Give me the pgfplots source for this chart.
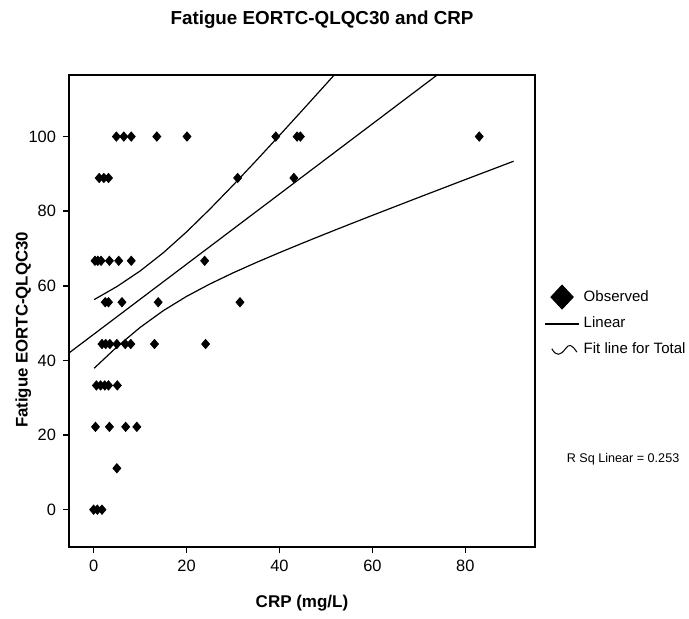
\documentclass[border=0pt]{standalone}
\usepackage{fontspec}
\setmainfont{Liberation Sans}
\usepackage{pgfplots}
\pgfplotsset{compat=1.18}
\begin{document}
\begin{tikzpicture}
\useasboundingbox (0,0) rectangle (344.5pt,309.5pt);
\begin{axis}[
  at={(34.5pt,36pt)}, anchor=south west,
  scale only axis, width=233pt, height=236pt,
  xmin=-5.3, xmax=95, ymin=-10, ymax=116.5,
  xtick={0,20,40,60,80}, ytick={0,20,40,60,80,100},
  tick align=outside, tick pos=left, major tick length=3pt,
  axis line style={line width=0.8pt},
  every tick/.style={line width=0.7pt, black},
  clip mode=individual,
  /pgf/number format/assume math mode=true,
  ticklabel style={font=\fontsize{8.2}{10}\selectfont},
  xlabel={CRP (mg/L)}, ylabel={Fatigue EORTC-QLQC30},
  xlabel style={font=\bfseries\fontsize{8.5}{10}\selectfont, at={(axis description cs:0.5,-0.119)}, anchor=center},
  ylabel style={font=\bfseries\fontsize{8.4}{10}\selectfont, at={(axis description cs:-0.098,0.46)}, anchor=center},
  legend style={draw=none, fill=none, at={(axis description cs:1.015,0.56)}, anchor=north west,
    font=\fontsize{7.5}{9}\selectfont, row sep=2pt, inner sep=1pt},
  legend cell align=left,
]
\addplot[only marks, mark=diamond*, mark size=2.3pt, mark options={xscale=1.15, fill=black, draw=black},
  legend image post style={mark size=6pt, mark options={xscale=1.25}}]
coordinates {
(4.9,100) (6.5,100) (8.1,100) (13.6,100) (20.1,100) (39.2,100) (43.8,100) (44.5,100) (83.0,100)
(1.2,88.9) (2.2,88.9) (3.2,88.9) (31.0,88.9) (43.1,88.9)
(0.3,66.7) (0.9,66.7) (1.6,66.7) (3.4,66.7) (5.4,66.7) (8.1,66.7) (23.9,66.7)
(2.5,55.6) (3.2,55.6) (6.1,55.6) (13.9,55.6) (31.5,55.6)
(1.8,44.4) (2.6,44.4) (3.5,44.4) (5.0,44.4) (6.8,44.4) (8.0,44.4) (13.1,44.4) (24.1,44.4)
(0.6,33.3) (1.5,33.3) (2.4,33.3) (3.2,33.3) (5.1,33.3)
(0.4,22.2) (3.4,22.2) (6.9,22.2) (9.3,22.2)
(5.0,11.1)
(0.0,0) (0.8,0) (1.8,0)
};
\addlegendentry{Observed}
\addplot[black, line width=0.6pt] coordinates {(-5.3,42.0) (95,136.3)};
\addlegendentry{Linear}
\addplot[black, line width=0.6pt,
  legend image code/.code={\draw[black, line width=0.5pt] (0.12cm,0.02cm) .. controls (0.2cm,-0.12cm) and (0.27cm,-0.1cm) .. (0.36cm,0.02cm) .. controls (0.42cm,0.11cm) and (0.47cm,0.1cm) .. (0.56cm,-0.04cm);}]
coordinates {
(0.1,56.29) (5,59.79) (10,63.96) (15,68.86) (20,74.44) (25,80.53) (30,86.94) (35,93.56)
(40,100.31) (45,107.14) (50,114.03) (55,120.96) (60,127.9)
};
\addlegendentry{Fit line for Total}
\addplot[black, line width=0.6pt, forget plot] coordinates {
(0.1,37.89) (5,43.61) (10,48.84) (15,53.34) (20,57.16) (25,60.47) (30,63.46) (35,66.24)
(40,68.89) (45,71.46) (50,73.97) (55,76.44) (60,78.88) (70,83.70) (80,88.47) (90.4,93.39)
};
\node[font=\bfseries\fontsize{9.4}{11}\selectfont, anchor=base] at (axis description cs:0.543,1.106) {Fatigue EORTC-QLQC30 and CRP};
\node[font=\fontsize{6.3}{8}\selectfont] at (axis description cs:1.189,0.186) {R Sq Linear = 0.253};
\end{axis}
\end{tikzpicture}
\end{document}
